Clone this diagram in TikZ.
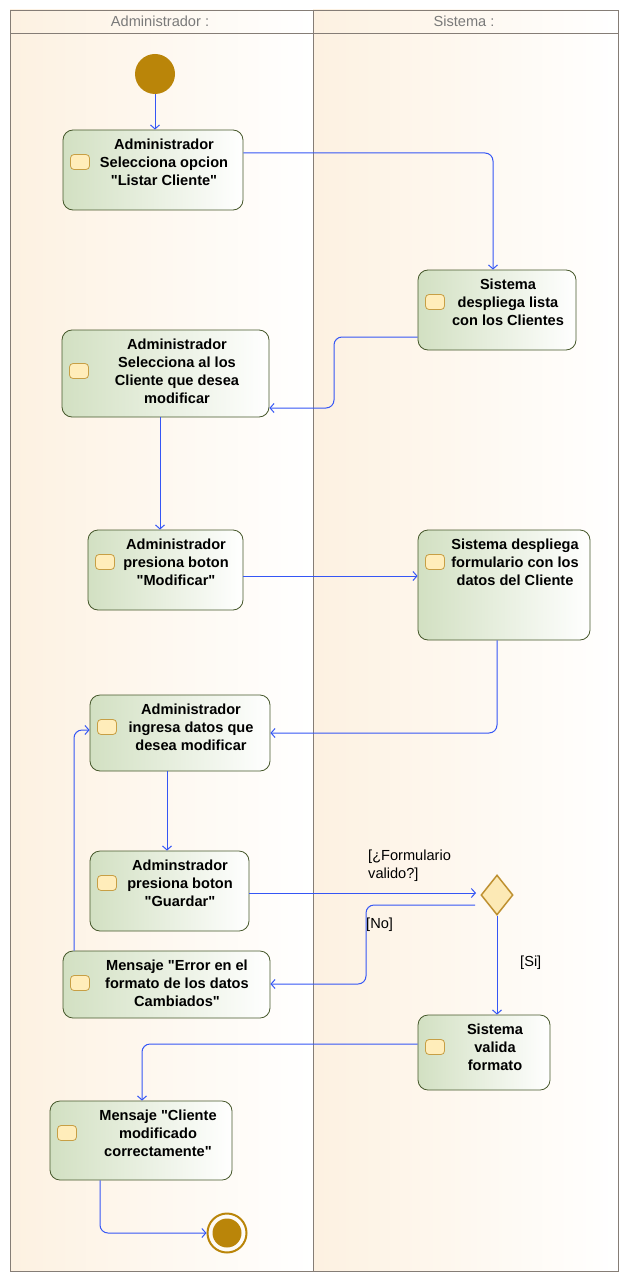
\documentclass[tikz,border=0pt]{standalone}
\usepackage{fontspec}
\setmainfont{Liberation Sans}[Ligatures=TeXOff]
\usetikzlibrary{arrows.meta,shapes.geometric}
\newcommand\dq{\symbol{34}}
\definecolor{lanebg}{HTML}{FDF1E1}
\definecolor{nodeL}{HTML}{D2E0C2}
\definecolor{nodeB}{HTML}{46582B}
\definecolor{iconF}{HTML}{FFEDBA}
\definecolor{iconB}{HTML}{C79F45}
\definecolor{gold}{HTML}{BA8509}
\definecolor{diaF}{HTML}{FCE9B5}
\definecolor{diaB}{HTML}{BE9030}
\definecolor{flowc}{HTML}{3556F5}
\definecolor{frame}{HTML}{857D76}
\definecolor{headtxt}{HTML}{7A7A7A}
\begin{document}
\begin{tikzpicture}[x=1pt,y=-1pt,
  act/.style={draw=nodeB, line width=0.8pt, rounded corners=10pt, left color=nodeL, right color=white, inner sep=0pt},
  txt/.style={anchor=north, align=center, inner sep=0pt, font=\bfseries\fontsize{14.6}{18}\selectfont},
  icon/.style={draw=iconB, fill=iconF, line width=0.8pt, rounded corners=3.5pt, minimum width=19pt, minimum height=15pt, inner sep=0pt},
  flow/.style={draw=flowc, line width=1pt, rounded corners=8pt, -{Straight Barb[length=4pt,width=9pt]}},
  lbl/.style={inner sep=0pt, align=left, font=\fontsize{14.6}{18}\selectfont},
  head/.style={inner sep=0pt, text=headtxt, font=\fontsize{14.6}{17}\selectfont}
]
\useasboundingbox (0,0) rectangle (629,1281);
\fill[white] (0,0) rectangle (629,1281);
% lanes
\shade[left color=lanebg, right color=white] (10,10) rectangle (313,1271);
\shade[left color=lanebg, right color=white] (313,10) rectangle (618,1271);
\draw[frame, line width=0.8pt] (10,10) rectangle (618,1271);
\draw[frame, line width=0.8pt] (10,33) -- (618,33);
\draw[frame, line width=0.8pt] (313,10) -- (313,1271);
\node[head] (h1) at (160,21) {Administrador :};
\node[head] (h2) at (464,21) {Sistema :};

% start / end
\node[circle, fill=gold, minimum size=40pt, inner sep=0pt] (start) at (155,74) {};
\node[circle, draw=gold, line width=2pt, minimum size=39pt, inner sep=0pt] (end) at (227,1233) {};
\node[circle, fill=gold, minimum size=29pt, inner sep=0pt] (endin) at (227,1233) {};

% actions
\node[act, minimum width=180pt, minimum height=80pt] (a1) at (153,170) {};
\node[icon] (a1i) at (80,162) {};
\node[txt] (a1t) at (164,139) {Administrador\\Selecciona opcion\\\dq Listar Cliente\dq};

\node[act, minimum width=158pt, minimum height=80pt] (s1) at (497,310) {};
\node[icon] (s1i) at (435,302) {};
\node[txt] (s1t) at (508,279) {Sistema\\despliega lista\\con los Clientes};

\node[act, minimum width=207pt, minimum height=87pt] (a2) at (165.5,373.5) {};
\node[icon] (a2i) at (79,371) {};
\node[txt] (a2t) at (177,339) {Administrador\\Selecciona al los\\Cliente que desea\\modificar};

\node[act, minimum width=155pt, minimum height=80pt] (a3) at (165.5,570) {};
\node[icon] (a3i) at (105,562) {};
\node[txt] (a3t) at (176,539) {Administrador\\presiona boton\\\dq Modificar\dq};

\node[act, minimum width=172pt, minimum height=110pt] (s2) at (504,585) {};
\node[icon] (s2i) at (435,562) {};
\node[txt] (s2t) at (515,539) {Sistema despliega\\formulario con los\\datos del Cliente};

\node[act, minimum width=180pt, minimum height=76pt] (a4) at (180,733) {};
\node[icon] (a4i) at (107,727) {};
\node[txt] (a4t) at (191,704) {Administrador\\ingresa datos que\\desea modificar};

\node[act, minimum width=159pt, minimum height=80pt] (a5) at (169.5,891) {};
\node[icon] (a5i) at (107,883) {};
\node[txt] (a5t) at (180,860) {Adminstrador\\presiona boton\\\dq Guardar\dq};

\node[act, minimum width=207pt, minimum height=67pt] (a6) at (166.5,984.5) {};
\node[icon] (a6i) at (80,983) {};
\node[txt] (a6t) at (177,960) {Mensaje \dq Error en el\\formato de los datos\\Cambiados\dq};

\node[act, minimum width=132pt, minimum height=75pt] (s3) at (484,1052.5) {};
\node[icon] (s3i) at (435,1047) {};
\node[txt] (s3t) at (495,1024) {Sistema\\valida\\formato};

\node[act, minimum width=182pt, minimum height=79pt] (a7) at (141,1140.5) {};
\node[icon] (a7i) at (67,1133) {};
\node[txt] (a7t) at (158,1110) {Mensaje \dq Cliente\\modificado\\correctamente\dq};

% decision
\node[diamond, draw=diaB, fill=diaF, line width=1.5pt, minimum width=32pt, minimum height=40pt, inner sep=0pt] (d) at (497,895) {};

% labels
\node[lbl, anchor=north west] (l1) at (368,850) {[¿Formulario\\valido?]};
\node[lbl, anchor=north west] (l2) at (366,918) {[No]};
\node[lbl, anchor=north west] (l3) at (520,956) {[Si]};

% flows
\draw[flow] (start) -- (start |- a1.north);
\draw[flow] (a1.east |- 0,153) -| (s1.north -| 493,0);
\draw[flow] (s1.west |- 0,337) -| (334,372) |- (a2.east |- 0,408);
\draw[flow] (a2.south -| 160,0) -- (a3.north -| 160,0);
\draw[flow] (a3.east |- 0,576) -- (s2.west |- 0,576);
\draw[flow] (s2.south -| 497,0) |- (a4.east |- 0,733);
\draw[flow] (a4.south -| 167,0) -- (a5.north -| 167,0);
\draw[flow] (a5.east |- 0,893) -- (476,893);
\draw[flow] (475,905) -| (366,945) |- (a6.east |- 0,984);
\draw[flow] (d.south) -- (s3.north -| d.south);
\draw[flow] (a6.north -| 74,0) |- (a4.west |- 0,730);
\draw[flow] (s3.west |- 0,1044) -| (a7.north -| 142,0);
\draw[flow] (a7.south -| 100,0) |- (end.west);
\end{tikzpicture}
\end{document}
